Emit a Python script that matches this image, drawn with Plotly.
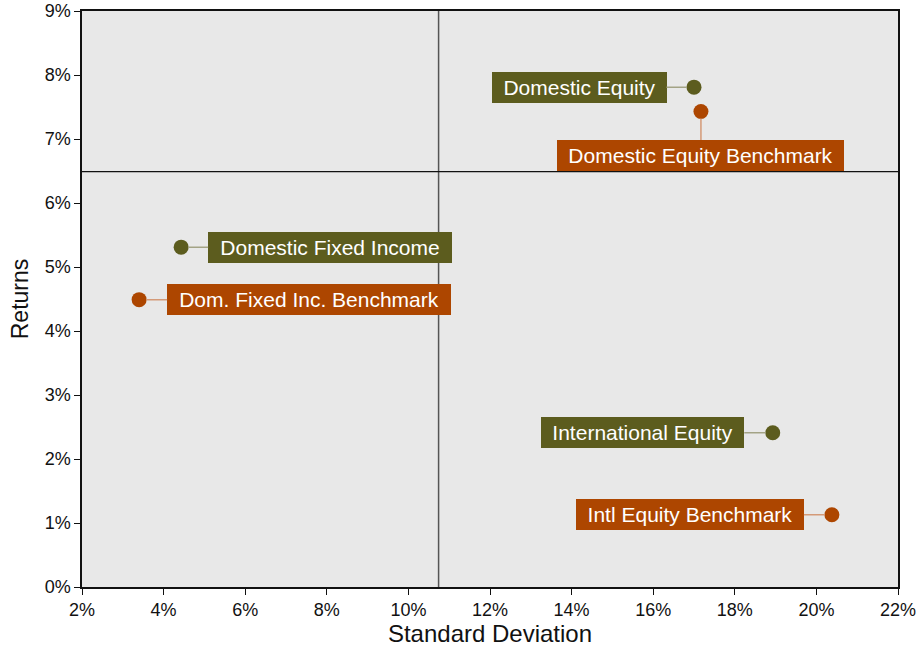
import plotly.graph_objects as go

# ---- data ----
names = ["Domestic Equity", "Domestic Equity Benchmark", "Domestic Fixed Income",
         "Dom. Fixed Inc. Benchmark", "International Equity", "Intl Equity Benchmark"]
std_dev = [17.0, 17.17, 4.43, 3.40, 18.93, 20.38]
returns = [7.81, 7.43, 5.31, 4.49, 2.41, 1.13]
kind = ["fund", "bench", "fund", "bench", "fund", "bench"]
x_divider = 10.74
y_divider = 6.49
x_ticks = [2, 4, 6, 8, 10, 12, 14, 16, 18, 20, 22]
y_ticks = [0, 1, 2, 3, 4, 5, 6, 7, 8, 9]

# ---- style ----
OLIVE = "#5c5c1e"
RUST = "#ad4600"
colors = {"fund": OLIVE, "bench": RUST}
line_colors = {"fund": "#a3a385", "bench": "#d49a78"}
# label placement (pixel offsets from point to label centre) and box widths
label_ax = [-115, 0, 149, 170, -130, -142]
label_ay = [0, 44, 0, 0, 0, 0]
label_w = [175, 287, 244, 284, 203, 228]

FONT = "Liberation Sans, Arial, sans-serif"

fig = go.Figure()
fig.add_trace(go.Scatter(
    x=std_dev, y=returns, mode="markers",
    marker=dict(size=15, color=[colors[k] for k in kind], line=dict(width=0)),
    hoverinfo="text", text=names, showlegend=False,
))

shapes = [
    dict(type="line", xref="x", yref="paper", x0=x_divider, x1=x_divider, y0=0, y1=1,
         line=dict(color="#555555", width=1.5), layer="below"),
    dict(type="line", xref="paper", yref="y", x0=0, x1=1, y0=y_divider, y1=y_divider,
         line=dict(color="#111111", width=1.2), layer="below"),
]

annotations = []
for i, n in enumerate(names):
    annotations.append(dict(
        x=std_dev[i], y=returns[i], xref="x", yref="y", text=n,
        showarrow=True, arrowhead=0, arrowwidth=1.5, arrowcolor=line_colors[kind[i]],
        ax=label_ax[i], ay=label_ay[i], standoff=7,
        bgcolor=colors[kind[i]], borderpad=0, borderwidth=0,
        width=label_w[i], height=31, align="center", valign="middle",
        font=dict(family=FONT, size=21, color="white"),
    ))

fig.update_layout(
    width=918, height=650,
    margin=dict(l=82, r=20, t=11, b=63, autoexpand=False),
    paper_bgcolor="white", plot_bgcolor="#e8e8e8",
    font=dict(family=FONT, color="#111111"),
    shapes=shapes, annotations=annotations,
    xaxis=dict(range=[2, 22], tickvals=x_ticks, ticktext=[f"{v}%" for v in x_ticks],
               showgrid=False, zeroline=False, showline=True, linecolor="#111111", linewidth=1.5,
               mirror=True, ticks="outside", ticklen=6, tickcolor="#111111",
               tickfont=dict(size=18, color="#111111"), automargin=False,
               title=dict(text="Standard Deviation", font=dict(size=24, color="#111111"), standoff=6)),
    yaxis=dict(range=[0, 9], tickvals=y_ticks, ticktext=[f"{v}%" for v in y_ticks],
               showgrid=False, zeroline=False, showline=True, linecolor="#111111", linewidth=1.5,
               mirror=True, ticks="outside", ticklen=6, tickcolor="#111111",
               tickfont=dict(size=18, color="#111111"), automargin=False,
               title=dict(text="Returns", font=dict(size=23, color="#111111"), standoff=10)),
)

fig.write_html("out.html", config={"displayModeBar": False},
               post_script="document.body.style.margin='0';")
